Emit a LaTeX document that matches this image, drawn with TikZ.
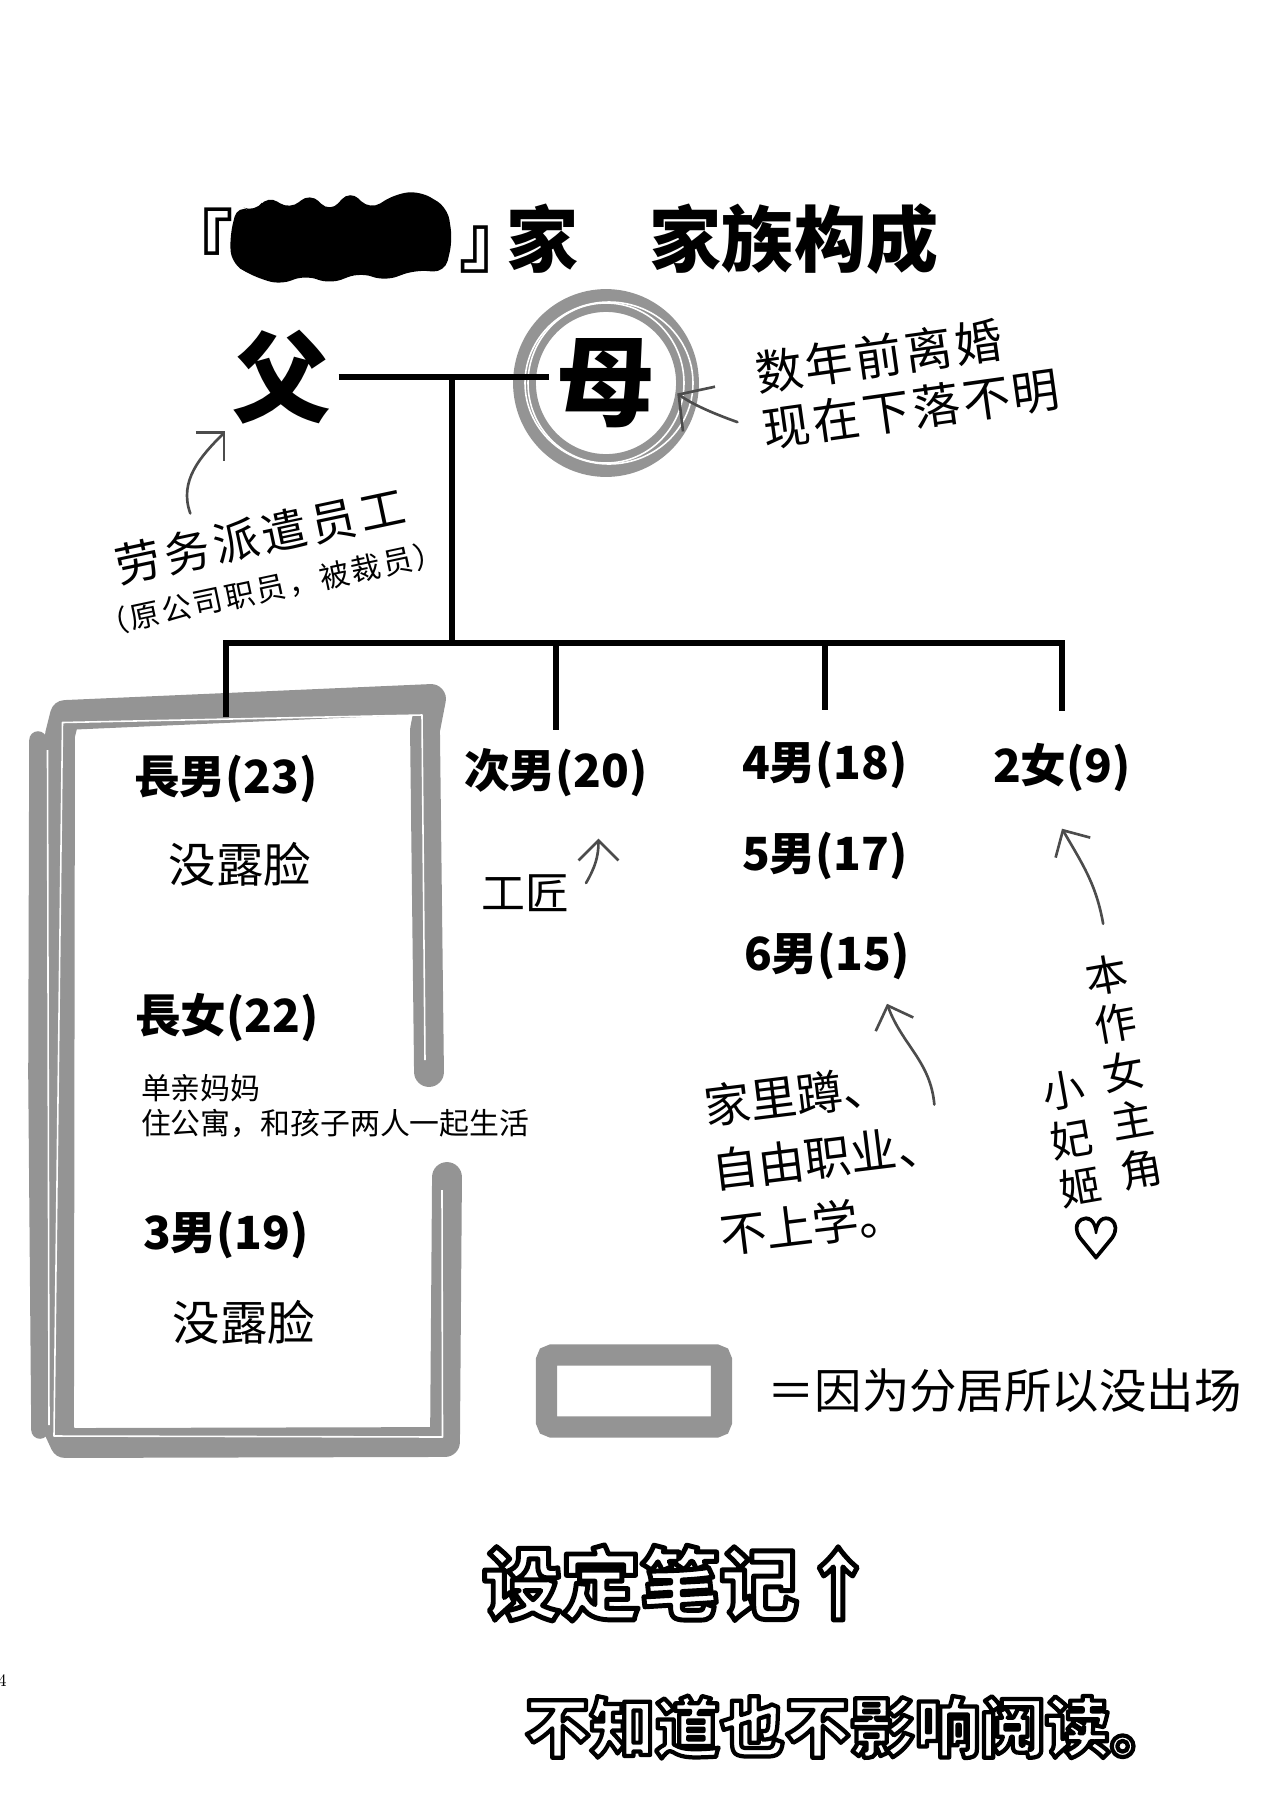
\documentclass[tikz,border=0pt]{standalone}
\usepackage{fontspec}
\newfontfamily\cjk{Noto Sans CJK SC}
\newfontfamily\symfont{DejaVu Sans}
\usetikzlibrary{arrows.meta}
\colorlet{screen}{black!42}
\colorlet{pencil}{black!70}

%% hollow lettering: white fill, black stroke (pdf text render mode 2)
\newcommand{\hollowtxt}[2][1.6]{%
  \special{pdf:literal direct 2 Tr #1 w 1 j 1 g 0 G}#2%
  \special{pdf:literal direct 0 Tr 0.4 w 0 j 0 g 0 G}}
%% thickened glyph: fill and stroke in black
\newcommand{\heavytxt}[2][1.4]{%
  \special{pdf:literal direct 2 Tr #1 w 1 j 0 g 0 G}#2%
  \special{pdf:literal direct 0 Tr 0.4 w 0 j}}

\begin{document}
\begin{tikzpicture}[
  %% Title lettering
  titletxt/.style={font=\cjk\bfseries\fontsize{41}{48}\selectfont, inner sep=0pt},
  %% Father / mother
  parent/.style={font=\cjk\bfseries\fontsize{56}{60}\selectfont, inner sep=4pt},
  %% Children
  kid/.style={font=\cjk\bfseries\fontsize{26}{30}\selectfont, inner sep=2pt},
  %% Handwritten notes
  note/.style={font=\cjk\fontsize{27}{32}\selectfont, inner sep=1pt},
  smallnote/.style={font=\cjk\fontsize{17}{20}\selectfont, inner sep=1pt},
  %% Tree lines
  famline/.style={line width=3.4pt, black},
  %% Halftone frames
  ring/.style={draw=screen, line width=13pt},
  frame/.style={draw=screen, line width=17pt, line join=round, line cap=round},
  screenbox/.style={draw=screen, line width=12pt, rounded corners=3pt},
  sketch/.style={draw=white, line width=0.9pt, line join=round},
  %% Pencil arrows
  notearr/.style={->, >={Straight Barb[length=4mm,width=8mm]}, pencil,
                  line width=1.5pt, line cap=round}
]
\useasboundingbox (0,0) rectangle (25.6,-36.36);

%% ── Title ────────────────────────────────────────────────────────────
%% blacked-out surname
\fill[rounded corners=7pt] (4.6,-4.7) -- (4.75,-4.1) -- (5.1,-4.25) -- (5.35,-3.9)
  -- (5.8,-4.2) -- (6.2,-3.85) -- (6.6,-4.25) -- (7.0,-3.8) -- (7.4,-4.2)
  -- (7.9,-3.88) -- (8.4,-3.82) -- (8.95,-4.15) -- (9.05,-4.8) -- (8.9,-5.45)
  -- (8.3,-5.4) -- (7.7,-5.62) -- (7.2,-5.45) -- (6.6,-5.68) -- (6.1,-5.5)
  -- (5.6,-5.7) -- (5.0,-5.5) -- (4.62,-5.25) -- cycle;
\node[titletxt] (lquote)   at (3.95, -4.78) {『};
\node[titletxt] (famname)  at (10.38,-4.78) {』\kern-0.5cm家};
\node[titletxt] (famtitle) at (15.88,-4.78) {家族构成};

%% ── Parents ──────────────────────────────────────────────────────────
\node[parent] (fa) at (5.64,-7.54) {父};
\node[parent] (mo) at (12.12,-7.66) {母};
\draw[ring] (mo) ellipse [x radius=1.63, y radius=1.65];
\draw[sketch] (mo) ellipse [x radius=1.56, y radius=1.6];
\draw[sketch] ([xshift=0.6mm]mo) ellipse [x radius=1.68, y radius=1.62];

%% ── Absent children frame (open on the right for the long note) ─────
\draw[frame] (8.58,-21.44) -- (8.5,-14.6) -- (8.62,-13.98) -- (1.3,-14.3)
  -- (1.2,-14.7) -- (1.18,-28.6) -- (1.3,-28.86) -- (8.9,-28.84) -- (8.94,-23.54);
\draw[frame, line width=10pt] (0.76,-14.8) -- (0.74,-21.5) -- (0.8,-28.6);
\draw[sketch] (8.5,-21.2) -- (8.44,-14.3) -- (1.25,-14.45) -- (1.08,-28.72)
  -- (8.85,-28.74) -- (8.84,-23.8);
\draw[sketch] (0.95,-15.0) -- (0.98,-28.5);

%% ── Children ─────────────────────────────────────────────────────────
\node[kid] (son1) at (4.52,-15.58) {長男(23)};
\node[kid] (son2) at (11.12,-15.46) {次男(20)};
\node[kid] (son4) at (16.5,-15.3) {4男(18)};
\node[kid] (son5) at (16.5,-17.12) {5男(17)};
\node[kid] (son6) at (16.54,-19.12) {6男(15)};
\node[kid] (dau2) at (21.24,-15.36) {2女(9)};
\node[kid] (dau1) at (4.54,-20.36) {長女(22)};
\node[kid] (son3) at (4.52,-24.7) {3男(19)};

%% ── Tree lines ───────────────────────────────────────────────────────
\coordinate (kids) at (9.04,-12.86);
\draw[famline] (fa.east) -- (fa.east -| mo.west);
\draw[famline] (fa.east -| kids) -- (kids);
\draw[famline, shorten <=6.8mm, shorten >=5.8mm]
  (son1.north) -- (son1 |- kids) -- (dau2 |- kids) -- (dau2.north);
\draw[famline, shorten >=3mm] (son2 |- kids) -- (son2.north);
\draw[famline, shorten >=5.4mm] (son4 |- kids) -- (son4.north);

%% ── Notes ────────────────────────────────────────────────────────────
\node[note, rotate=12, align=center, font=\cjk\fontsize{26}{30}\selectfont] (fanote) at (5.3,-11.18)
  {\addfontfeature{LetterSpace=9}劳务派遣员工\\[-3pt]%
   {\fontsize{17}{20}\selectfont\addfontfeature{LetterSpace=8}（原公司职员，被裁员）}};
\node[note, rotate=8, align=left, font=\cjk\fontsize{27}{32}\selectfont\addfontfeature{LetterSpace=6}]
  (momnote) at (18.15,-7.62) {数年前离婚\\现在下落不明};
\node[note] (noface1) at (4.8,-17.28) {没露脸};
\node[smallnote, align=left, anchor=west] (dau1note) at (2.78,-22.12)
  {单亲妈妈\\住公寓，和孩子两人一起生活};
\node[note] (noface3) at (4.88,-26.44) {没露脸};
\node[note, font=\cjk\fontsize{25}{30}\selectfont] (crafts) at (10.5,-17.86) {工匠};
\node[note, rotate=7, align=left, font=\cjk\fontsize{26.5}{37}\selectfont] (homenote) at (16.55,-23.14)
  {家里蹲、\\自由职业、\\不上学。};
\node[note, rotate=10, align=center, font=\cjk\fontsize{24}{28}\selectfont] (herorole) at (22.48,-21.44)
  {本\\作\\女\\主\\角};
\node[note, rotate=10, align=center, font=\cjk\fontsize{24}{28}\selectfont] (heroname) at (21.44,-22.78)
  {小\\妃\\姬};
\node[font=\symfont\fontsize{32}{32}\selectfont] (heart) at (21.92,-24.76) {\heavytxt[1.3]{♡}};

%% ── Arrows ───────────────────────────────────────────────────────────
\draw[notearr] ([xshift=-1.3cm]fanote.north) to[out=110, in=225] (fa.south west);
\draw[notearr, >={Straight Barb[length=5mm,width=11mm]}, shorten >=3.6mm]
  ([xshift=-4mm,yshift=-4mm]momnote.west) to[bend left=8] (mo.east);
\draw[notearr] ([xshift=3mm,yshift=2mm]crafts.east) to[out=60, in=-90]
  ([xshift=8.5mm,yshift=-7.5mm]son2.south);
\draw[notearr] ([yshift=-1cm]homenote.north east) to[out=95, in=-70]
  ([xshift=1.2cm,yshift=-4mm]son6.south);
\draw[notearr] ([yshift=6mm]herorole.north) to[out=100, in=-60]
  ([yshift=-6.5mm]dau2.south);

%% ── Legend ───────────────────────────────────────────────────────────
\node[screenbox, minimum width=3.5cm, minimum height=1.44cm] (legbox) at (12.68,-27.82) {};
\node[note, anchor=west] (legtxt) at (15.3,-27.82) {＝因为分居所以没出场};

%% ── Footer ───────────────────────────────────────────────────────────
\node[font=\cjk\bfseries\fontsize{45}{50}\selectfont] (memo) at (13.6,-31.66)
  {\hollowtxt[2.8]{设定笔记↑}};
\node[font=\cjk\bfseries\fontsize{37}{42}\selectfont] (nomatter) at (17.0,-34.54)
  {\hollowtxt[2.4]{不知道也不影响阅读。}};
\node[font=\fontsize{10}{12}\selectfont, anchor=east, inner sep=0pt] (pagenum) at (0.14,-33.62) {4};

\end{tikzpicture}
\end{document}
